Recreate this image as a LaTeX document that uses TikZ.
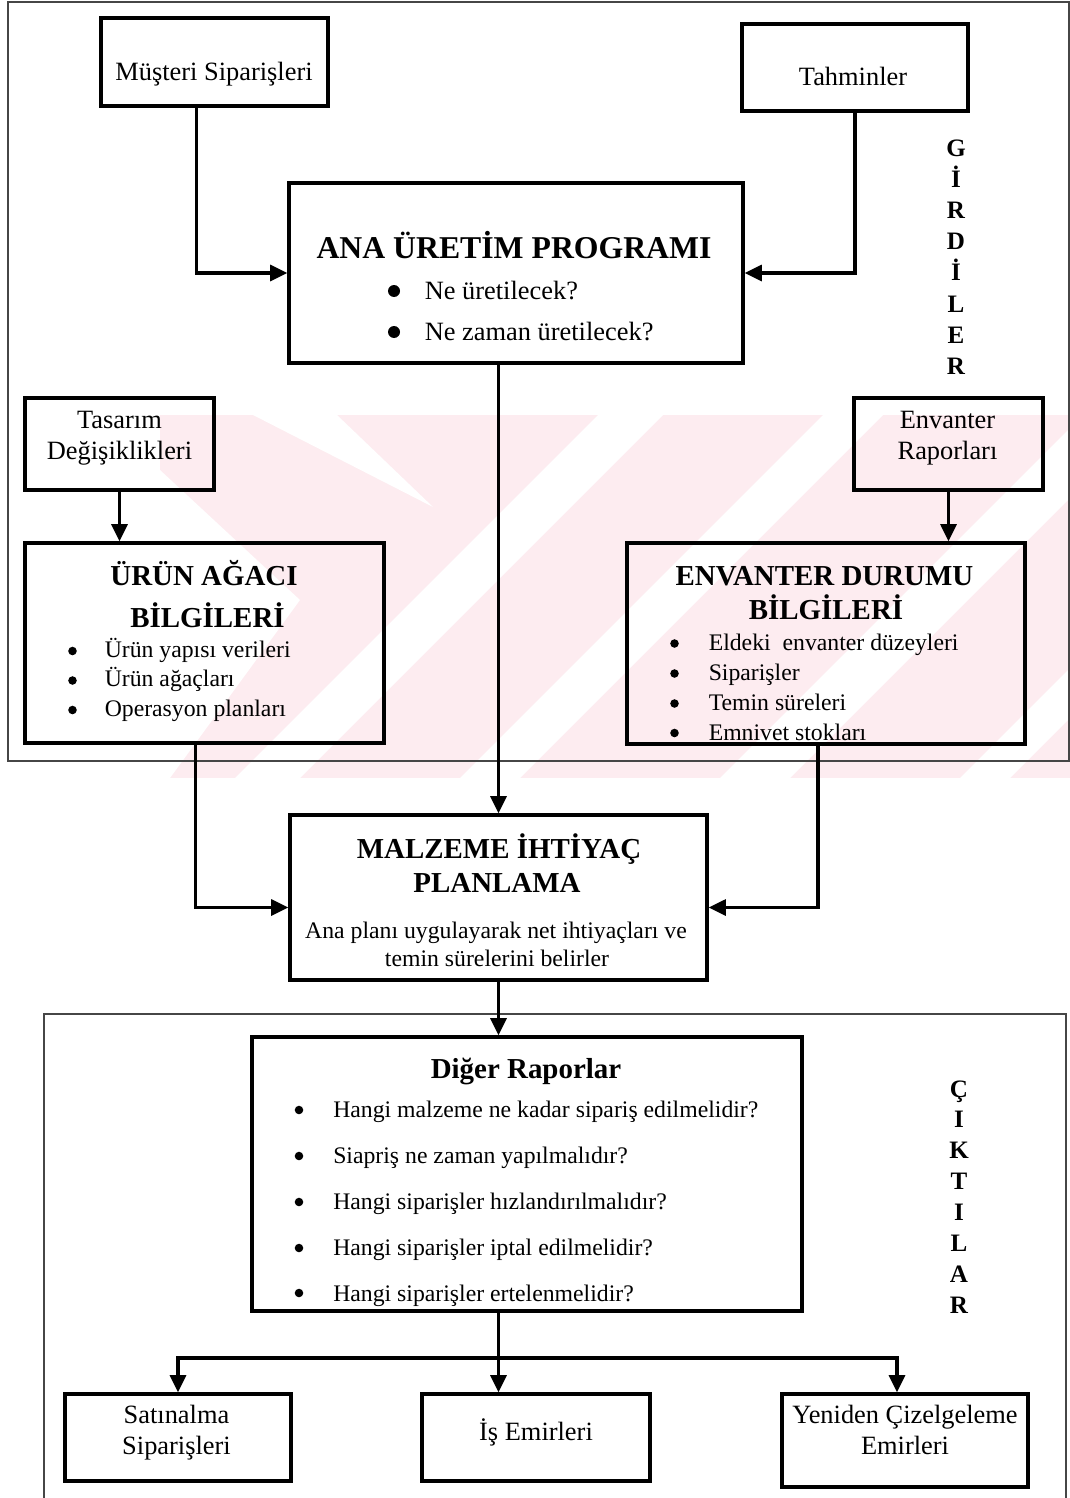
\documentclass[tikz,border=0pt]{standalone}
\usepackage{fontspec}
\setmainfont{Liberation Serif}
\usetikzlibrary{arrows.meta,fit}

\definecolor{wmpink}{RGB}{253,236,240}
\definecolor{framegray}{RGB}{70,70,70}

\newcommand{\fsReg}{\fontsize{19.8pt}{23pt}\selectfont}
\newcommand{\fsItem}{\fontsize{17.8pt}{21pt}\selectfont}
\newcommand{\fsHead}{\bfseries\fontsize{23.8pt}{28pt}\selectfont}
\newcommand{\fsSub}{\bfseries\fontsize{21.7pt}{26pt}\selectfont}
\newcommand{\fsSide}{\bfseries\fontsize{18.8pt}{22pt}\selectfont}

\begin{document}
\begin{tikzpicture}[x=0.75pt,y=-0.75pt,
  box/.style={draw, line width=2.4pt, inner sep=0pt},
  frame/.style={draw=framegray, line width=0.9pt, inner sep=0pt},
  link/.style={line width=2.4pt, -{Triangle[length=13pt,width=12pt]}},
  wire/.style={line width=2.4pt},
  ctr/.style={anchor=base, inner sep=0pt, font=\fsReg},
  head/.style={anchor=base, inner sep=0pt, font=\fsHead},
  sub/.style={anchor=base, inner sep=0pt, font=\fsSub},
  item/.style={anchor=base west, inner sep=0pt, font=\fsItem},
  itemreg/.style={anchor=base west, inner sep=0pt, font=\fsReg},
  side/.style={anchor=base, inner sep=0pt, font=\fsSide},
  bulletdot/.style={circle, fill, inner sep=0pt, minimum size=#1},
]
\useasboundingbox (0,0) rectangle (1070,1498);

% light striped background emblem
\begin{scope}
  \clip (160,415) rectangle (1070,778);
  \fill[wmpink] (160,415) rectangle (1070,778);
  \fill[white] (253,415) -- (337,415) -- (433,507) -- cycle;
  \fill[white] (160,470) -- (160,778) -- (170,778) -- (300,600) -- cycle;
  \fill[white] (235,778) -- (300,778) -- (663,415) -- (598,415) -- cycle;
  \fill[white] (460,778) -- (520,778) -- (883,415) -- (823,415) -- cycle;
  \fill[white] (720,778) -- (790,778) -- (1153,415) -- (1083,415) -- cycle;
  \fill[white] (960,778) -- (1010,778) -- (1070,718) -- (1070,668) -- cycle;
\end{scope}

% input and output frames
\node[frame, fit={(8,2) (1069,761)}] (inframe) {};
\node[frame, fit={(44,1014) (1066,1530)}] (outframe) {};

% boxes
\node[box, fit={(101,18) (328,106)}] (mus) {};
\node[box, fit={(742,24) (968,111)}] (tah) {};
\node[box, fit={(289,183) (743,363)}] (ana) {};
\node[box, fit={(25,398) (214,490)}] (tas) {};
\node[box, fit={(854,398) (1043,490)}] (envr) {};
\node[box, fit={(25,543) (384,743)}] (urun) {};
\node[box, fit={(627,543) (1025,744)}] (env) {};
\node[box, fit={(290,815) (707,980)}] (mrp) {};
\node[box, fit={(252,1037) (802,1311)}] (dig) {};
\node[box, fit={(65,1394) (291,1481)}] (sat) {};
\node[box, fit={(422,1394) (650,1481)}] (isem) {};
\node[box, fit={(782,1394) (1028,1487)}] (yen) {};

% texts of the input boxes
\node[ctr] (musT) at (214,81) {Müşteri Siparişleri};
\node[ctr] (tahT) at (853,86) {Tahminler};
\node[ctr] (tasT1) at (119.5,428) {Tasarım};
\node[ctr] (tasT2) at (119.5,459) {Değişiklikleri};
\node[ctr] (envrT1) at (947.5,428) {Envanter};
\node[ctr] (envrT2) at (947.5,459) {Raporları};

% master schedule
\node[head] (anaT) at (514,258) {ANA ÜRETİM PROGRAMI};
\node[bulletdot=9pt] (anaB1) at (394,291) {};
\node[bulletdot=9pt] (anaB2) at (394,332) {};
\node[itemreg] (anaI1) at (424.5,299) {Ne üretilecek?};
\node[itemreg] (anaI2) at (424.5,340) {Ne zaman üretilecek?};

% bill of materials
\node[sub] (urunT1) at (204,585) {ÜRÜN AĞACI};
\node[sub] (urunT2) at (207.5,627) {BİLGİLERİ};
\node[bulletdot=6.4pt] (urunB1) at (72.5,651) {};
\node[bulletdot=6.4pt] (urunB2) at (72.5,680.5) {};
\node[bulletdot=6.4pt] (urunB3) at (72.5,710) {};
\node[item] (urunI1) at (104.5,657) {Ürün yapısı verileri};
\node[item] (urunI2) at (104.5,686.5) {Ürün ağaçları};
\node[item] (urunI3) at (104.5,716) {Operasyon planları};

% inventory status
\node[sub] (envT1) at (824.5,585) {ENVANTER DURUMU};
\node[sub] (envT2) at (826,619) {BİLGİLERİ};
\node[bulletdot=6.4pt] (envB1) at (674.5,643.5) {};
\node[bulletdot=6.4pt] (envB2) at (674.5,673.5) {};
\node[bulletdot=6.4pt] (envB3) at (674.5,703.5) {};
\node[bulletdot=6.4pt] (envB4) at (674.5,733) {};
\node[item] (envI1) at (708.5,650) {Eldeki~ envanter düzeyleri};
\node[item] (envI2) at (708.5,680) {Siparişler};
\node[item] (envI3) at (708.5,710) {Temin süreleri};
\node[item] (envI4) at (708.5,740) {Emnivet stokları};

% material requirements planning
\node[sub] (mrpT1) at (499,858) {MALZEME İHTİYAÇ};
\node[sub] (mrpT2) at (497,892) {PLANLAMA};
\node[anchor=base, inner sep=0pt, font=\fsItem] (mrpI1) at (496,938) {Ana planı uygulayarak net ihtiyaçları ve};
\node[anchor=base, inner sep=0pt, font=\fsItem] (mrpI2) at (497,966) {temin sürelerini belirler};

% other reports
\node[sub] (digT) at (526,1078) {Diğer Raporlar};
\foreach \by/\ty/\txt [count=\k] in {
    1110/1117/{Hangi malzeme ne kadar sipariş edilmelidir?},
    1156/1163/{Siapriş ne zaman yapılmalıdır?},
    1202/1209/{Hangi siparişler hızlandırılmalıdır?},
    1248/1255/{Hangi siparişler iptal edilmelidir?},
    1293/1301/{Hangi siparişler ertelenmelidir?}} {
  \node[bulletdot=6.4pt] (digB\k) at (299,\by) {};
  \node[item] (digI\k) at (333,\ty) {\txt};
}

% outputs
\node[ctr] (satT1) at (176.5,1423) {Satınalma};
\node[ctr] (satT2) at (176.5,1454) {Siparişleri};
\node[ctr] (isemT) at (536,1440) {İş Emirleri};
\node[ctr] (yenT1) at (905,1423) {Yeniden Çizelgeleme};
\node[ctr] (yenT2) at (905,1454) {Emirleri};

% vertical side labels
\foreach \ch [count=\i] in {G,İ,R,D,İ,L,E,R}
  \node[side] (gir\i) at (956,{157+31*(\i-1)}) {\ch};
\foreach \ch [count=\i] in {Ç,I,K,T,I,L,A,R}
  \node[side] (cik\i) at (959,{1097+30.9*(\i-1)}) {\ch};

% connectors
\draw[link] ([xshift=-13.5pt]mus.south) |- (ana.west);
\draw[link] (tah.south) |- (ana.east);
\draw[link] (mrp.north |- ana.south) -- (mrp.north);
\draw[link] (tas.south) -- (tas.south |- urun.north);
\draw[link] (envr.south) -- (envr.south |- env.north);
\draw[link] ([xshift=-6.5pt]urun.south) |- ([yshift=-7.5pt]mrp.west);
\draw[link] ([xshift=-6pt]env.south) |- ([yshift=-7.5pt]mrp.east);
\draw[link] (mrp.south) -- (mrp.south |- dig.north);
\coordinate (split) at (mrp.south |- 0,1358);
\draw[wire] (mrp.south |- dig.south) -- (split);
\draw[link] (split) -| (sat.north);
\draw[link] (split) -- (split |- isem.north);
\draw[link] (split) -| ([xshift=-6pt]yen.north);
\end{tikzpicture}
\end{document}
